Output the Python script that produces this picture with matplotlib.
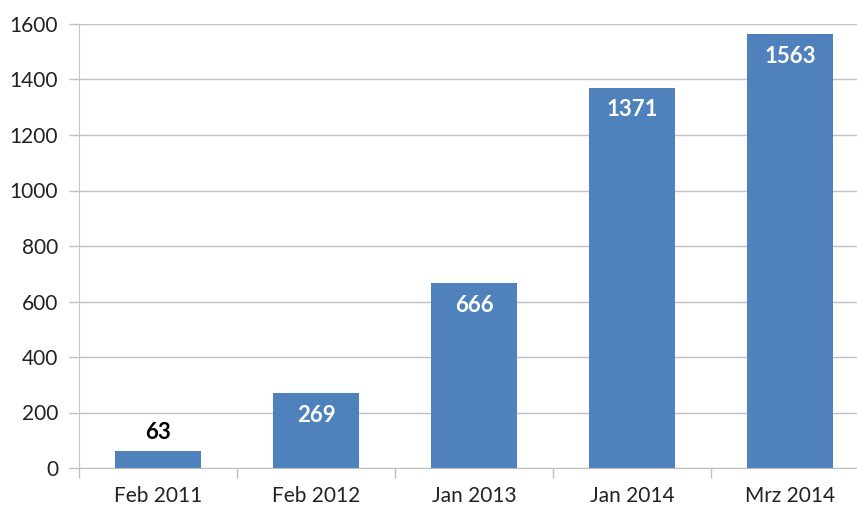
import matplotlib
matplotlib.use("Agg")
import matplotlib.pyplot as plt
from matplotlib.ticker import FixedLocator

categories = ["Feb 2011", "Feb 2012", "Jan 2013", "Jan 2014", "Mrz 2014"]
values = [63, 269, 666, 1371, 1563]
yticks = [0, 200, 400, 600, 800, 1000, 1200, 1400, 1600]

plt.rcParams['font.family'] = ['Lato', 'DejaVu Sans']

fig = plt.figure(figsize=(8.57, 5.07), dpi=100)
ax = fig.add_axes([79/857, 39/507, 790/857, 444/507])

x = list(range(len(categories)))
bars = ax.bar(x, values, width=0.55, color="#4F81BD", zorder=3)

ax.set_xlim(-0.5, len(categories) - 0.5)
ax.set_ylim(0, 1600)
ax.set_yticks(yticks)
ax.set_yticklabels([str(t) for t in yticks], fontsize=15, color="#222222")
ax.set_xticks(x)
ax.set_xticklabels(categories, fontsize=15, color="#222222")
ax.tick_params(axis='x', length=0, pad=13)
ax.tick_params(axis='y', length=7, color="#BFBFBF", width=1, pad=8)
ax.xaxis.set_minor_locator(FixedLocator([i - 0.5 for i in range(len(categories) + 1)]))
ax.tick_params(axis='x', which='minor', length=7, color="#BFBFBF", width=1)

ax.grid(axis='y', color="#C0C0C0", linewidth=1, zorder=0)
for s in ['top', 'right']:
    ax.spines[s].set_visible(False)
ax.spines['left'].set_color("#C8C8C8")
ax.spines['bottom'].set_color("#BFBFBF")

for xi, v in zip(x, values):
    if v < 150:
        ax.annotate(str(v), (xi, v), xytext=(0, 13), textcoords='offset points',
                    ha='center', va='center', fontsize=16, fontweight='bold', color='black')
    else:
        ax.annotate(str(v), (xi, v), xytext=(0, -16), textcoords='offset points',
                    ha='center', va='center', fontsize=16, fontweight='bold', color='white')

fig.savefig("out.png", dpi=100)
